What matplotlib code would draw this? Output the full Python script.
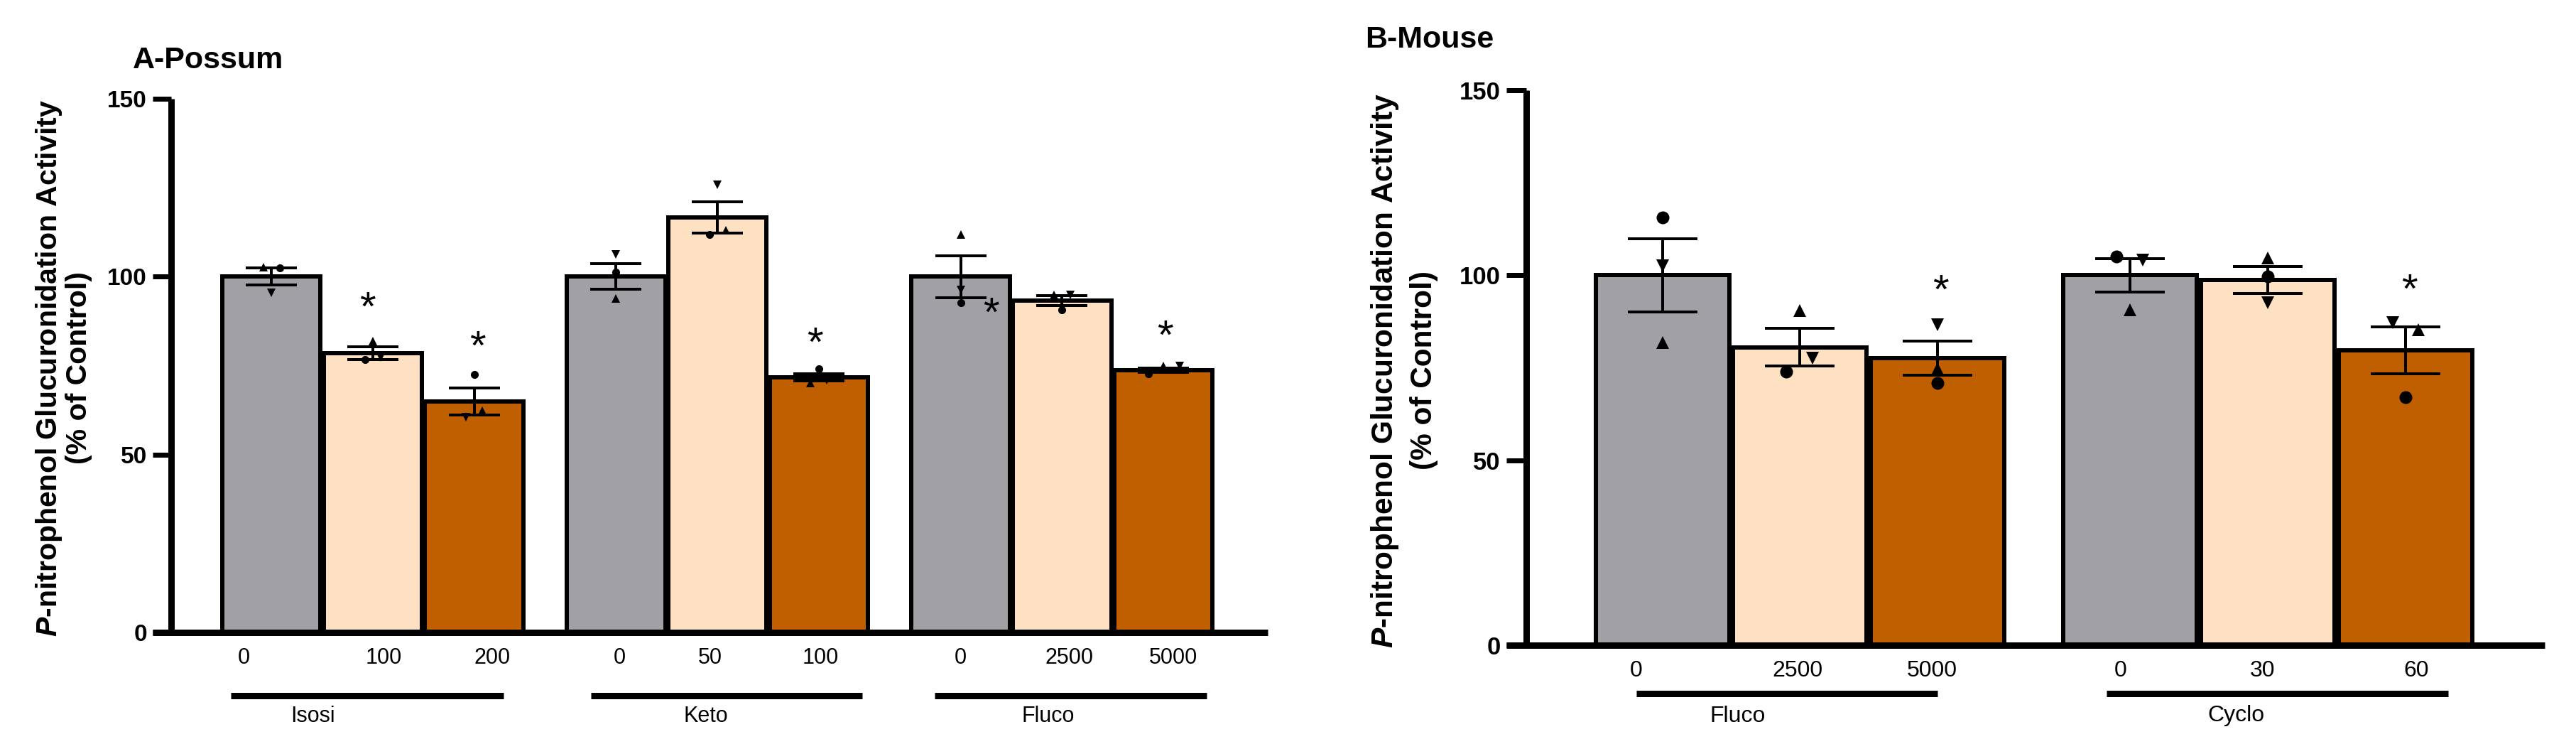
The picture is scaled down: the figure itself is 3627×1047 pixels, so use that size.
import matplotlib
matplotlib.use('Agg')
import matplotlib.pyplot as plt

plt.rcParams['font.family'] = 'Liberation Sans'
plt.rcParams['mathtext.fontset'] = 'custom'
plt.rcParams['mathtext.it'] = 'Liberation Sans:italic:bold'
plt.rcParams['mathtext.rm'] = 'Liberation Sans:bold'
plt.rcParams['mathtext.bf'] = 'Liberation Sans:bold'

W, H, DPI = 3627, 1047, 100
PT = 72 / DPI  # points per pixel

colors = ['#a1a0a5', '#fee0c2', '#c05f00']

# ---- A - Possum ----
a_groups = ['Isosi', 'Keto', 'Fluco']
a_doses = ['0', '100', '200', '0', '50', '100', '0', '2500', '5000']
a_mean = [100, 78.4, 64.9, 100, 116.7, 71.8, 100, 93.2, 73.8]
a_sem = [2.4, 1.8, 3.8, 3.6, 4.4, 1.0, 5.9, 1.4, 0.6]
a_circle = [102.4, 76.7, 72.5, 101.2, 111.9, 74.2, 92.7, 90.6, 72.7]
a_up = [102.6, 81.8, 62.3, 93.9, 113.1, 70.2, 111.9, 94.9, 75.0]
a_down = [95.5, 77.2, 60.5, 106.3, 125.8, 70.9, 96.3, 94.9, 75.0]
a_star_bar = [1, 2, 5, 6, 8]
a_star_y = [94.5, 83.5, 84.5, 92.9, 86.5]

# ---- B - Mouse ----
b_groups = ['Fluco', 'Cyclo']
b_doses = ['0', '2500', '5000', '0', '30', '60']
b_mean = [100, 80.5, 77.6, 100, 98.7, 79.7]
b_sem = [9.9, 5.1, 4.6, 4.6, 3.6, 6.4]
b_circle = [115.7, 73.9, 70.8, 105.1, 99.8, 67.0]
b_up = [81.9, 90.4, 74.7, 90.7, 104.7, 85.3]
b_down = [102.5, 77.6, 86.6, 104.1, 92.5, 87.2]
b_star_bar = [2, 5]
b_star_y = [99.0, 99.2]

# layout (pixel boxes, jitter and label offsets in bar units)
layout_a = dict(
    box=(241, 1785, 139, 890), xlim=(-0.99, 9.83),
    circle_dx=[0.08, -0.08, 0, 0, -0.08, 0, 0, 0, -0.15],
    up_dx=[-0.08, 0, 0.08, 0, 0.08, -0.08, 0, -0.08, 0],
    down_dx=[0, 0.08, -0.08, 0, 0, 0.08, 0, 0.08, 0.16],
    star_dx=[-0.05, 0.03, -0.04, 0.30, 0.02],
    dose_dx=[-0.27, 0.11, 0.18, 0.035, -0.07, 0.02, 0.0, 0.07, 0.10],
    line_span=[(-0.40, 2.29), (-0.25, 2.43), (-0.26, 2.43)],
    glabel_dx=[0.41, 0.885, 0.865],
    y_dose=926, y_line=978.5, y_glabel=1008,
    ms=8, cap=26, tick_len=26, ytick_fs=24, xtick_fs=22, glabel_fs=22,
    title='A-Possum', title_xy=(187, 96),
    ylab_x=(69, 111), ylab_y=518, ylab_fs=29.5,
)
layout_b = dict(
    box=(2148.8, 3582.5, 127.3, 907.8), xlim=(-0.99, 6.41),
    circle_dx=[0, -0.10, 0, -0.10, 0, 0],
    up_dx=[0, 0, 0, 0, 0, 0.095],
    down_dx=[0, 0.09, 0, 0.09, 0, -0.09],
    star_dx=[0.02, 0.03],
    dose_dx=[-0.19, -0.02, -0.04, -0.07, -0.04, 0.08],
    line_span=[(-0.19, 2.0), (-0.17, 2.31)],
    glabel_dx=[0.547, 0.77],
    y_dose=944.5, y_line=975.7, y_glabel=1007.5,
    ms=13, cap=35, tick_len=28, ytick_fs=25, xtick_fs=23, glabel_fs=23,
    title='B-Mouse', title_xy=(1922, 67),
    ylab_x=(1950, 2005), ylab_y=521, ylab_fs=30.5,
)


def panel(fig, lay, groups, doses, mean, sem, circle, up, down, star_bar, star_y):
    l, r, t, b = lay['box']
    ax = fig.add_axes([l / W, (H - b) / H, (r - l) / W, (b - t) / H])
    ax.set_xlim(*lay['xlim'])
    ax.set_ylim(0, 150)
    unit = (r - l) / (lay['xlim'][1] - lay['xlim'][0])
    ypx = b - t

    xs = [g * 3.4 + i for g in range(len(groups)) for i in range(3)]
    ax.bar(xs, mean, width=0.97, color=colors * len(groups),
           edgecolor='black', linewidth=6 * PT, zorder=2)
    ax.errorbar(xs, mean, yerr=sem, fmt='none', ecolor='black',
                elinewidth=4 * PT, capsize=lay['cap'], capthick=4 * PT, zorder=3)
    for vals, dx, m in [(circle, lay['circle_dx'], 'o'),
                        (up, lay['up_dx'], '^'),
                        (down, lay['down_dx'], 'v')]:
        ax.plot([x + d for x, d in zip(xs, dx)], vals, m, color='black',
                ms=lay['ms'], mew=0, ls='none', zorder=4, clip_on=False)
    for k, yv, d in zip(star_bar, star_y, lay['star_dx']):
        ax.annotate('*', (xs[k] + d, yv), xytext=(0, -0.58 * 42),
                    textcoords='offset points', ha='center', va='baseline',
                    fontsize=42, zorder=5)

    for s in ['top', 'right']:
        ax.spines[s].set_visible(False)
    for s in ['left', 'bottom']:
        ax.spines[s].set_linewidth(9 * PT)
        ax.spines[s].set_capstyle('butt')
    ax.spines['bottom'].set_bounds(lay['xlim'][0] - lay['tick_len'] / unit,
                                   lay['xlim'][1])
    ax.set_xticks([])
    ax.set_yticks([0, 50, 100, 150])
    ax.tick_params(axis='y', length=lay['tick_len'] * PT, width=7 * PT,
                   pad=8 * PT, labelsize=lay['ytick_fs'])
    for lab in ax.get_yticklabels():
        lab.set_fontweight('bold')

    tr = ax.get_xaxis_transform()
    for x, d, txt in zip(xs, lay['dose_dx'], doses):
        ax.text(x + d, (b - lay['y_dose']) / ypx, txt, transform=tr,
                ha='center', va='center', fontsize=lay['xtick_fs'])
    for g, name in enumerate(groups):
        x0, x1 = lay['line_span'][g]
        yl = (b - lay['y_line']) / ypx
        ax.plot([g * 3.4 + x0, g * 3.4 + x1], [yl, yl], color='black',
                lw=9 * PT, transform=tr, clip_on=False, solid_capstyle='butt')
        ax.text(g * 3.4 + lay['glabel_dx'][g], (b - lay['y_glabel']) / ypx, name,
                transform=tr, ha='center', va='center', fontsize=lay['glabel_fs'])

    tx, ty = lay['title_xy']
    fig.text(tx / W, (H - ty) / H, lay['title'], fontsize=31,
             fontweight='bold', ha='left', va='baseline')
    x1, x2 = lay['ylab_x']
    yc = (H - lay['ylab_y']) / H
    fig.text(x1 / W, yc, r'$\mathit{P}$-nitrophenol Glucuronidation Activity',
             rotation=90, ha='center', va='center', fontsize=lay['ylab_fs'],
             fontweight='bold')
    fig.text(x2 / W, yc, '(% of Control)', rotation=90, ha='center',
             va='center', fontsize=lay['ylab_fs'], fontweight='bold')
    return ax


fig = plt.figure(figsize=(W / DPI, H / DPI), dpi=DPI)
panel(fig, layout_a, a_groups, a_doses, a_mean, a_sem, a_circle, a_up, a_down,
      a_star_bar, a_star_y)
panel(fig, layout_b, b_groups, b_doses, b_mean, b_sem, b_circle, b_up, b_down,
      b_star_bar, b_star_y)
fig.savefig('out.png', dpi=DPI)
